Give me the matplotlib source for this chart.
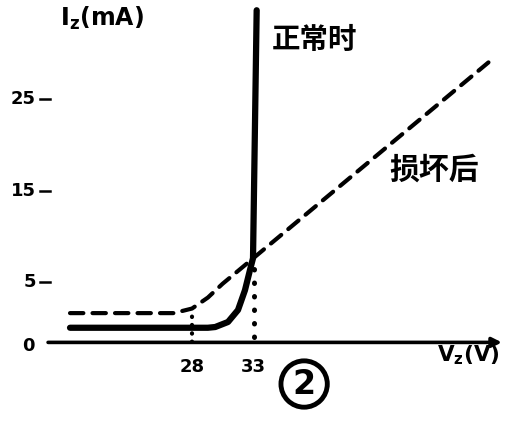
import numpy as np
import matplotlib.pyplot as plt

plt.rcParams['font.family'] = ['Noto Sans CJK SC', 'DejaVu Sans']
plt.rcParams['font.weight'] = 'bold'

# Kennlinien (V in Volt, I in mA)
normal_v = [18.0, 29.3, 29.9, 30.95, 31.77, 32.34, 32.75, 33.0, 33.3]
normal_i = [0.0, 0.0, 0.08, 0.63, 1.94, 4.1, 6.3, 7.6, 34.7]
damaged_v = [18.0, 26.5, 28.0, 29.3, 30.5, 52.3]
damaged_i = [1.6, 1.6, 2.1, 3.3, 4.8, 29.0]

y_ticks = [5, 15, 25]
x_ticks = [28, 33]
v_cross, i_cross = 33.0, 7.6   # Schnittpunkt
i_at_28 = 2.1

# Achsenursprung (gebrochene Achsen)
v0, i0 = 16.2, -1.6

fig = plt.figure(figsize=(5.12, 4.22), dpi=100)
ax = fig.add_axes([0, 0, 1, 1])
ax.set_xlim(12.26, 54.23)
ax.set_ylim(-10.30, 35.82)
ax.axis('off')

# Achsen mit Pfeilen
ax.annotate('', xy=(v0, 36.0), xytext=(v0, i0),
            arrowprops=dict(arrowstyle='-|>', lw=3, color='black',
                            mutation_scale=12, shrinkA=0, shrinkB=0))
ax.annotate('', xy=(53.4, i0), xytext=(v0, i0),
            arrowprops=dict(arrowstyle='-|>', lw=2.6, color='black',
                            mutation_scale=14, shrinkA=0, shrinkB=0))

# Ticks
for t in y_ticks:
    ax.plot([v0 - 0.65, v0 + 0.15], [t, t], color='black', lw=1.8)
    ax.text(v0 - 1.0, t, str(t), ha='right', va='center', fontsize=13,
            family='DejaVu Sans', fontweight='bold')
ax.text(v0 - 1.1, i0 - 0.4, '0', ha='right', va='center', fontsize=13,
        family='DejaVu Sans', fontweight='bold')
for t in x_ticks:
    ax.text(t, i0 - 2.7, str(t), ha='center', va='center', fontsize=13,
            family='DejaVu Sans', fontweight='bold')

# Hilfslinien
ax.plot([28, 28], [i0, i_at_28 - 0.4], color='black', lw=3,
        linestyle=(0, (0.1, 1.9)), dash_capstyle='round')
ax.plot([33.05, 33.05], [i0 + 0.6, i_cross - 1.0], color='black', lw=3.6,
        linestyle=(0, (0.1, 2.6)), dash_capstyle='round')

# Kurven
ax.plot(damaged_v, damaged_i, color='black', lw=3, linestyle=(0, (3.2, 2.2)),
        dash_capstyle='round')
ax.plot(normal_v, normal_i, color='black', lw=4.5, solid_capstyle='round')

# Beschriftungen
ax.text(0.117, 0.957, r'$\mathbf{I_z}$(mA)', transform=ax.transAxes,
        fontsize=17, family='DejaVu Sans', fontweight='bold', va='center')
ax.text(0.530, 0.905, '正常时', transform=ax.transAxes, fontsize=20.5,
        fontweight='bold', va='center')
ax.text(0.760, 0.598, '损坏后', transform=ax.transAxes, fontsize=21.5,
        fontweight='bold', va='center')
ax.text(0.853, 0.158, r'$\mathbf{V_z}$(V)', transform=ax.transAxes,
        fontsize=15.5, family='DejaVu Sans', fontweight='bold', va='center')
ax.text(0.594, 0.090, '2', transform=ax.transAxes, fontsize=24,
        family='DejaVu Sans', fontweight='bold', ha='center', va='center',
        bbox=dict(boxstyle='circle,pad=0.2', fc='white', ec='black', lw=3.5))

fig.savefig('out.png', dpi=100)
